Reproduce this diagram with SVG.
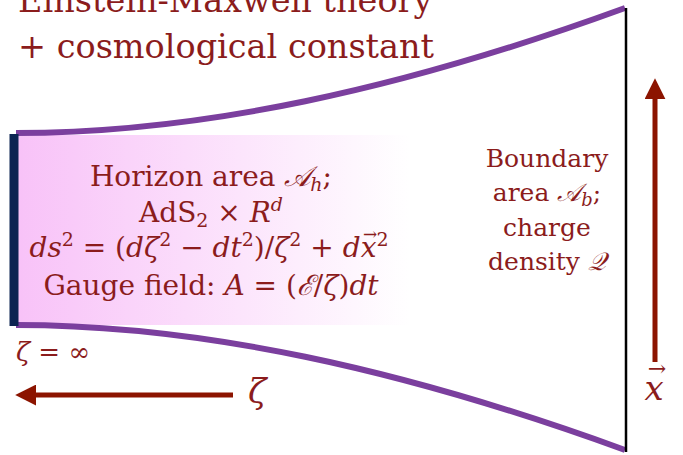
<svg xmlns="http://www.w3.org/2000/svg" width="683" height="455" viewBox="0 0 683 455">
<defs>
<linearGradient id="g" x1="0" y1="0" x2="1" y2="0">
<stop offset="0" stop-color="#f8c2f8"/>
<stop offset="1" stop-color="#ffffff"/>
</linearGradient>
<marker id="ah" viewBox="0 0 10 10" refX="2" refY="5" markerWidth="4.2" markerHeight="4.2" orient="auto" markerUnits="strokeWidth">
<path d="M0,0 L10,5 L0,10 Z" fill="#8c1400"/>
</marker>
<style>
text{fill:#8b1c1c;font-family:"DejaVu Serif","Liberation Serif",serif}
.c{text-anchor:middle}
.i{font-style:italic}
.curve{fill:none;stroke:#7b3f9e;stroke-width:6}
.arr{stroke:#8c1400;stroke-width:5;fill:none;marker-end:url(#ah)}
</style>
</defs>
<g id="bulk">
<rect x="18" y="135" width="392" height="190" fill="url(#g)"/>
<path class="curve" d="M16,133 C200,133 400,90 625,8"/>
<path class="curve" d="M16,325 C200,325 400,368 625,450"/>
</g>
<g id="horizon">
<line x1="14" y1="134" x2="14" y2="326" stroke="#0c2452" stroke-width="9"/>
</g>
<g id="boundary">
<line x1="626" y1="8" x2="626" y2="452" stroke="#000" stroke-width="2.5"/>
</g>
<g id="title">
<text x="18" y="12" font-size="33.5">Einstein-Maxwell theory</text>
<text x="18" y="58" font-size="33.5">+ cosmological constant</text>
</g>
<g id="horizon-text" font-size="28">
<text class="c" x="211" y="186">Horizon area <tspan class="i">𝒜</tspan><tspan font-size="19" dy="5" class="i">h</tspan><tspan dy="-5">;</tspan></text>
<text class="c" x="211" y="222">AdS<tspan font-size="19" dy="5">2</tspan><tspan dy="-5"> × </tspan><tspan class="i">R</tspan><tspan font-size="19" dy="-11" class="i">d</tspan></text>
<text class="c" x="209" y="257"><tspan class="i">ds</tspan><tspan font-size="19" dy="-11">2</tspan><tspan dy="11"> = (</tspan><tspan class="i">dζ</tspan><tspan font-size="19" dy="-11">2</tspan><tspan dy="11"> − </tspan><tspan class="i">dt</tspan><tspan font-size="19" dy="-11">2</tspan><tspan dy="11">)/</tspan><tspan class="i">ζ</tspan><tspan font-size="19" dy="-11">2</tspan><tspan dy="11"> + </tspan><tspan class="i">dx</tspan><tspan font-size="19" dy="-11">2</tspan></text>
<text x="370" y="240" font-size="17" class="c">→</text>
<text class="c" x="211" y="295">Gauge field: <tspan class="i">A</tspan> = (<tspan class="i">ℰ</tspan>/<tspan class="i">ζ</tspan>)<tspan class="i">dt</tspan></text>
</g>
<g id="boundary-text" font-size="25">
<text class="c" x="547" y="167">Boundary</text>
<text class="c" x="547" y="201">area <tspan class="i">𝒜</tspan><tspan font-size="18" dy="5" class="i">b</tspan><tspan dy="-5">;</tspan></text>
<text class="c" x="547" y="236">charge</text>
<text class="c" x="547" y="270">density <tspan class="i">𝒬</tspan></text>
</g>
<g id="connectors">
<line class="arr" x1="233" y1="395" x2="32" y2="395"/>
<line class="arr" x1="655" y1="362" x2="655" y2="95"/>
</g>
<g id="labels">
<text x="16" y="361" font-size="26" class="i">ζ <tspan font-style="normal">= ∞</tspan></text>
<text x="248" y="403" font-size="34" class="i">ζ</text>
<text x="654" y="400" font-size="34" class="i c">x</text>
<text x="657" y="376" font-size="22" class="c">→</text>
</g>
</svg>
